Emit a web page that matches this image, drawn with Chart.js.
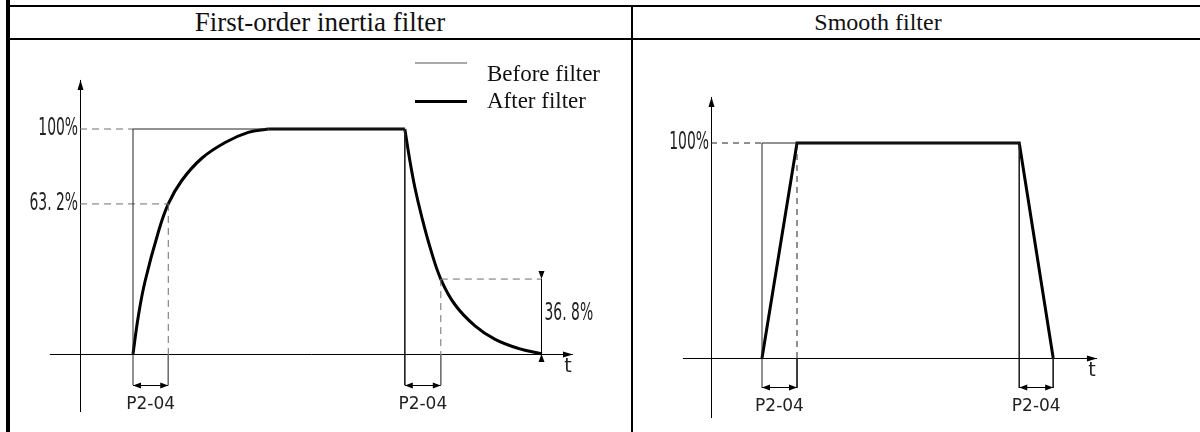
<!DOCTYPE html>
<html>
<head>
<meta charset="utf-8">
<script src="https://cdn.jsdelivr.net/npm/chart.js@4.4.1/dist/chart.umd.min.js"></script>
<style>
  html, body { margin: 0; padding: 0; background: #fff; }
  body { width: 1200px; height: 432px; position: relative; overflow: hidden;
         font-family: 'Liberation Serif', 'Times New Roman', serif; }
  .rule { position: absolute; background: #000; }
  .head { position: absolute; top: 7px; height: 31px; line-height: 31px;
          color: #111; white-space: nowrap; transform: translateX(-50%); }
  canvas { position: absolute; }
</style>
</head>
<body>
<div class="rule" style="left:6px;top:0;width:4px;height:432px"></div>
<div class="rule" style="left:6px;top:5px;width:1194px;height:2px"></div>
<div class="rule" style="left:6px;top:38px;width:1194px;height:2px"></div>
<div class="rule" style="left:631px;top:5px;width:2px;height:427px"></div>
<div class="head" style="left:320px;font-size:27px">First-order inertia filter</div>
<div class="head" style="left:878px;font-size:24px">Smooth filter</div>

<canvas id="inertia" width="618" height="388" style="left:12px;top:40px"></canvas>
<canvas id="smooth" width="560" height="388" style="left:634px;top:40px"></canvas>

<script>
// time is in units of P2-04 (filter time), values in % of the input step

// first-order inertia filter
const riseT = [0, 0.15, 0.33, 0.70, 0.98, 1.35, 1.91, 2.56, 3.20, 3.76];
const riseV = [0, 17, 32, 54, 66.7, 77, 87, 94, 98.5, 100];
const fallT = [7.55, 7.69, 7.83, 8.02, 8.25, 8.55, 8.94, 9.50, 10.06, 10.70, 11.36];
const fallV = [100, 86, 74, 61, 47.5, 33.3, 22, 12.5, 6.5, 2.5, 0];
const inertiaStep = [0, 7.55];          // input switched on / off
const inertiaTau = [0.98, 8.55];        // one filter time after each edge
const inertiaMarks = [100, 66.7, 33.3]; // heights of the marked levels as drawn
const inertiaMarkText = ['100%', '63. 2%', '36. 8%'];

// smooth filter
const smoothT = [0, 1.0, 7.35, 8.32];
const smoothV = [0, 100, 100, 0];
const smoothStep = [0, 7.35];
const smoothMarkText = ['100%'];

const spanText = 'P2-04';
const legendText = ['Before filter', 'After filter'];

const pts = (ts, vs) => ts.map((t, i) => ({ x: t, y: vs[i] }));
const seg = (t0, v0, t1, v1) => [{ x: t0, y: v0 }, { x: t1, y: v1 }];

function head(ctx, x, y, dx, dy, len, w) {
  ctx.beginPath();
  ctx.moveTo(x, y);
  ctx.lineTo(x - dx * len - dy * w, y - dy * len + dx * w);
  ctx.lineTo(x - dx * len + dy * w, y - dy * len - dx * w);
  ctx.closePath();
  ctx.fill();
}

function text(ctx, s, x, y, align, font, sx) {
  ctx.save();
  ctx.font = font;
  ctx.textAlign = align;
  ctx.textBaseline = 'middle';
  ctx.translate(x, y);
  ctx.scale(sx, 1);
  ctx.fillText(s, 0, 0);
  ctx.restore();
}

const crisp = v => Math.round(v - 0.5) + 0.5;
const pctFont = '24px "DejaVu Sans"';
const smallFont = '17px "DejaVu Sans"';

const diagram = {
  id: 'diagram',
  beforeDatasetsDraw(chart, args, o) {
    const { ctx, scales: { x, y } } = chart;
    ctx.save();
    ctx.strokeStyle = '#000';
    ctx.fillStyle = '#000';
    ctx.lineWidth = 1;
    const ax = crisp(x.getPixelForValue(o.axisT));
    const ay = crisp(y.getPixelForValue(0));
    const top = y.getPixelForValue(o.vRange[1]);
    const right = x.getPixelForValue(o.tRange[1]);
    ctx.beginPath();
    ctx.moveTo(ax, y.getPixelForValue(o.vRange[0]));
    ctx.lineTo(ax, top);
    ctx.moveTo(x.getPixelForValue(o.tRange[0]), ay);
    ctx.lineTo(right, ay);
    ctx.stroke();
    head(ctx, ax, top, 0, -1, 10, 3);
    head(ctx, right, ay, 1, 0, 10, 3);
    ctx.fillStyle = '#222';
    text(ctx, 't', right - 5, ay + 13, 'center', '19px "DejaVu Sans"', 1);
    ctx.restore();
  },
  afterDatasetsDraw(chart, args, o) {
    const { ctx, scales: { x, y } } = chart;
    ctx.save();
    ctx.strokeStyle = '#000';
    ctx.fillStyle = '#000';
    ctx.lineWidth = 1;
    const dy = crisp(y.getPixelForValue(o.spanV));
    o.spans.forEach(([t0, t1]) => {
      const x0 = x.getPixelForValue(t0), x1 = x.getPixelForValue(t1);
      ctx.beginPath();
      ctx.moveTo(x0, dy);
      ctx.lineTo(x1, dy);
      ctx.stroke();
      head(ctx, x0, dy, -1, 0, 8, 3);
      head(ctx, x1, dy, 1, 0, 8, 3);
      ctx.fillStyle = '#222';
      text(ctx, spanText, (x0 + x1) / 2, dy + 19, 'center', smallFont, 1);
      ctx.fillStyle = '#000';
    });
    const ax = x.getPixelForValue(o.axisT);
    o.marks.forEach(([v, s]) => {
      ctx.fillStyle = '#222';
      text(ctx, s, ax - 2, y.getPixelForValue(v), 'right', pctFont, 0.58);
    });
    if (o.drop) {
      const [t, v0, v1, s] = o.drop;
      const px = crisp(x.getPixelForValue(t));
      const p0 = y.getPixelForValue(v0), p1 = y.getPixelForValue(v1);
      ctx.fillStyle = '#000';
      ctx.beginPath();
      ctx.moveTo(px, p0);
      ctx.lineTo(px, p1);
      ctx.stroke();
      head(ctx, px, p0, 0, 1, 8, 3);
      head(ctx, px, p1, 0, -1, 8, 3);
      ctx.fillStyle = '#222';
      text(ctx, s, px + 3, (p0 + p1) / 2 - 3, 'left', pctFont, 0.58);
    }
    if (o.legend) {
      // legend sits at a fixed spot in the upper right of the panel
      const lx = 403, lw = 52, tx = 475;
      ctx.strokeStyle = '#8c8c8c';
      ctx.lineWidth = 1.5;
      ctx.beginPath(); ctx.moveTo(lx, 23); ctx.lineTo(lx + lw, 23); ctx.stroke();
      ctx.strokeStyle = '#000';
      ctx.lineWidth = 3;
      ctx.beginPath(); ctx.moveTo(lx, 61.5); ctx.lineTo(lx + lw, 61.5); ctx.stroke();
      ctx.fillStyle = '#111';
      text(ctx, legendText[0], tx, 35, 'left', '23px "Liberation Serif"', 1);
      text(ctx, legendText[1], tx, 62, 'left', '23px "Liberation Serif"', 1);
    }
    ctx.restore();
  }
};

function options(xr, yr, deco) {
  return {
    responsive: false,
    animation: false,
    events: [],
    layout: { padding: 0 },
    elements: { point: { radius: 0 } },
    plugins: { legend: { display: false }, tooltip: { enabled: false }, diagram: deco },
    scales: {
      x: { type: 'linear', display: false, min: xr[0], max: xr[1] },
      y: { type: 'linear', display: false, min: yr[0], max: yr[1] }
    }
  };
}

const thin = { borderColor: '#222', borderWidth: 1, tension: 0 };
const thick = { borderColor: '#000', borderWidth: 3, tension: 0 };
const curve = { borderColor: '#000', borderWidth: 3, tension: 0.4 };
const dashL = { borderColor: '#6e6e6e', borderWidth: 1, borderDash: [7, 5], tension: 0 };
const extL = { borderColor: '#6e6e6e', borderWidth: 1, tension: 0 };
const dashR = { borderColor: '#222', borderWidth: 1, borderDash: [6, 5], tension: 0 };

// left panel
const lAxisT = -1.47, lSpanV = -13.8;
new Chart(document.getElementById('inertia'), {
  type: 'line',
  data: {
    datasets: [
      { ...thin, data: pts([inertiaStep[0], inertiaStep[0], inertiaStep[1], inertiaStep[1]], [lSpanV, 100, 100, lSpanV]) },
      { ...dashL, data: seg(lAxisT, inertiaMarks[0], inertiaStep[0], inertiaMarks[0]) },
      { ...dashL, data: seg(lAxisT, inertiaMarks[1], inertiaTau[0], inertiaMarks[1]) },
      { ...dashL, data: seg(inertiaTau[0], inertiaMarks[1], inertiaTau[0], 0) },
      { ...extL, data: seg(inertiaTau[0], 0, inertiaTau[0], lSpanV) },
      { ...dashL, data: seg(inertiaTau[1], inertiaMarks[2], inertiaTau[1], 0) },
      { ...extL, data: seg(inertiaTau[1], 0, inertiaTau[1], lSpanV) },
      { ...dashL, data: seg(inertiaTau[1], inertiaMarks[2], fallT[fallT.length - 1], inertiaMarks[2]) },
      { ...curve, data: pts(riseT, riseV) },
      { ...thick, data: seg(riseT[riseT.length - 1], 100, fallT[0], 100) },
      { ...curve, data: pts(fallT, fallV) }
    ]
  },
  options: options([-121 / 36, 497 / 36], [-74 / 2.25, 314 / 2.25], {
    axisT: lAxisT, tRange: [-2.31, 12.22], vRange: [-25.8, 121.8],
    spanV: lSpanV,
    spans: [[inertiaStep[0], inertiaTau[0]], [inertiaStep[1], inertiaTau[1]]],
    marks: [[inertiaMarks[0], inertiaMarkText[0]], [inertiaMarks[1], inertiaMarkText[1]]],
    drop: [fallT[fallT.length - 1], inertiaMarks[2], 0, inertiaMarkText[2]],
    legend: true
  }),
  plugins: [diagram]
});

// right panel
const rAxisT = -1.457, rSpanV = -13.95;
new Chart(document.getElementById('smooth'), {
  type: 'line',
  data: {
    datasets: [
      { ...thin, data: pts([smoothStep[0], smoothStep[0], smoothStep[1], smoothStep[1]], [rSpanV, 100, 100, rSpanV]) },
      { ...dashR, data: seg(rAxisT, 100, smoothT[0], 100) },
      { ...dashR, data: seg(smoothT[1], 100, smoothT[1], 0) },
      { ...thin, data: seg(smoothT[1], 0, smoothT[1], rSpanV) },
      { ...thin, data: seg(smoothT[3], 0, smoothT[3], rSpanV) },
      { ...thick, data: pts(smoothT, smoothV) }
    ]
  },
  options: options([-128 / 35, 432 / 35], [-70 / 2.15, 318 / 2.15], {
    axisT: rAxisT, tRange: [-2.26, 9.57], vRange: [-27.9, 121.4],
    spanV: rSpanV,
    spans: [[smoothT[0], smoothT[1]], [smoothStep[1], smoothT[3]]],
    marks: [[100, smoothMarkText[0]]],
    drop: null,
    legend: false
  }),
  plugins: [diagram]
});
</script>
</body>
</html>
